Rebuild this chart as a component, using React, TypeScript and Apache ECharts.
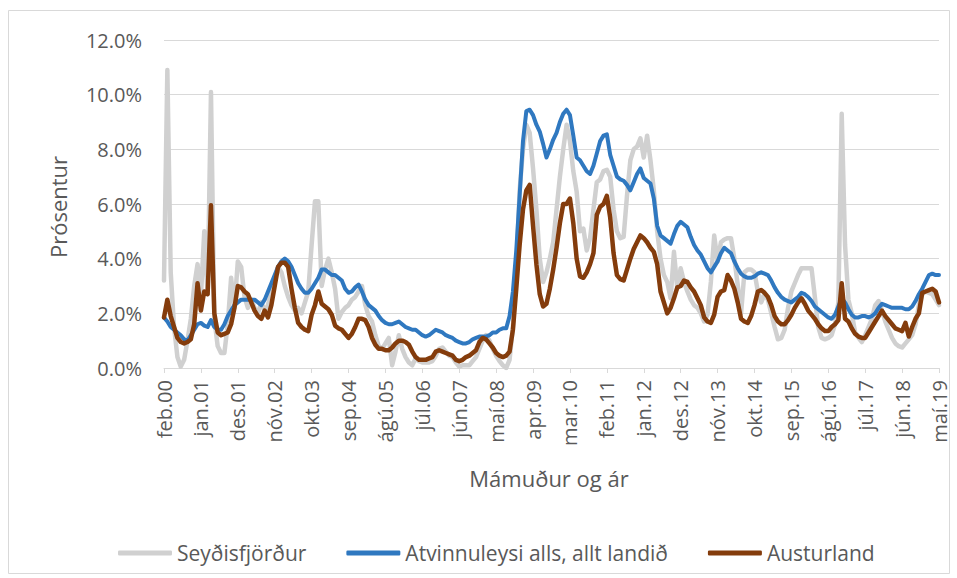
import React, { useEffect, useRef } from "react";
import * as echarts from "echarts";

const MONTHS = ["jan", "feb", "mar", "apr", "maí", "jún", "júl", "ágú", "sep", "okt", "nóv", "des"];
const START_YEAR = 2000;
const START_MONTH = 1; // feb
const MONTH_COUNT = 232; // feb.00 .. maí.19

const Y_TICKS = [0, 2, 4, 6, 8, 10, 12];

// Seyðisfjörður (%)
const seydisfjordur = [
  3.2, 10.9, 3.5, 1.5, 0.4, 0.05, 0.3, 1.0, 1.8, 3.0, 3.8,
  2.6, 5.0, 2.7, 10.1, 1.8, 0.8, 0.55, 0.55, 1.6, 3.3, 2.2,
  3.9, 3.7, 2.6, 2.2, 2.5, 2.2, 2.0, 2.4, 2.1, 2.3, 2.8,
  3.3, 3.7, 3.5, 3.0, 2.6, 2.3, 2.1, 2.2, 2.0, 2.4, 2.8,
  4.5, 6.1, 6.1, 3.0, 3.6, 4.0, 3.5, 2.9, 1.8, 2.05, 2.2,
  2.3, 2.5, 2.6, 2.8, 3.0, 2.3, 1.9, 1.7, 1.2, 0.8, 0.7,
  0.9, 1.1, 0.1, 0.6, 1.2, 0.7, 0.4, 0.2, 0.1, 0.35, 0.25,
  0.2, 0.2, 0.2, 0.25, 0.45, 0.7, 0.75, 0.6, 0.45, 0.4, 0.2,
  0.05, 0.1, 0.1, 0.1, 0.25, 0.4, 0.7, 1.0, 1.2, 1.0, 0.7,
  0.45, 0.25, 0.1, 0.0, 0.3, 1.5, 3.6, 6.5, 8.0, 8.9, 8.6,
  7.3, 5.8, 4.0, 3.15, 3.5, 4.0, 4.6, 5.8, 7.0, 8.0, 8.9,
  8.3, 7.2, 6.45, 5.0, 5.1, 4.3, 4.75, 5.8, 6.8, 6.9, 7.2,
  7.25, 7.0, 5.8, 5.0, 4.75, 4.8, 6.3, 7.6, 8.0, 8.1, 8.4,
  7.7, 8.5, 7.6, 6.5, 5.0, 4.0, 3.4, 3.15, 2.55, 4.25, 2.9,
  3.65, 3.15, 2.8, 2.5, 2.3, 2.2, 2.0, 1.7, 1.95, 3.15, 4.85,
  3.9, 4.6, 4.7, 4.75, 4.75, 4.0, 3.05, 2.0, 3.5, 3.6, 3.6,
  3.5, 2.8, 2.4, 2.7, 2.5, 2.0, 1.5, 1.05, 1.1, 1.4, 2.2,
  2.8, 3.1, 3.4, 3.65, 3.65, 3.65, 3.65, 2.6, 1.5, 1.1, 1.05,
  1.1, 1.2, 1.6, 2.4, 9.3, 4.5, 2.5, 2.0, 1.3, 1.1, 0.95,
  1.2, 1.5, 1.8, 2.3, 2.45, 2.1, 1.7, 1.4, 1.1, 0.9, 0.8,
  0.75, 0.9, 1.05, 1.2, 1.6, 2.3, 2.7, 2.8, 2.75, 2.7, 2.5,
  2.3,
];

// Atvinnuleysi alls, allt landið (%)
const allt_landid = [
  1.85, 1.7, 1.5, 1.4, 1.3, 1.2, 1.05, 1.0, 1.2, 1.4, 1.6,
  1.65, 1.55, 1.5, 1.75, 1.5, 1.4, 1.4, 1.6, 1.9, 2.1, 2.3,
  2.4, 2.5, 2.5, 2.5, 2.5, 2.5, 2.4, 2.3, 2.5, 2.8, 3.1,
  3.4, 3.7, 3.9, 4.0, 3.9, 3.7, 3.4, 3.1, 2.9, 2.75, 2.75,
  2.9, 3.1, 3.3, 3.6, 3.6, 3.5, 3.4, 3.4, 3.3, 3.2, 2.9,
  2.75, 2.8, 2.95, 3.05, 2.8, 2.5, 2.3, 2.2, 2.1, 1.9, 1.75,
  1.65, 1.6, 1.6, 1.65, 1.7, 1.6, 1.5, 1.45, 1.4, 1.4, 1.3,
  1.2, 1.15, 1.2, 1.3, 1.4, 1.35, 1.3, 1.2, 1.15, 1.1, 1.0,
  0.95, 0.9, 0.9, 0.95, 1.05, 1.1, 1.15, 1.15, 1.15, 1.2, 1.3,
  1.3, 1.4, 1.45, 1.45, 1.9, 2.8, 4.3, 6.3, 8.3, 9.4, 9.45,
  9.25, 8.9, 8.65, 8.2, 7.7, 8.0, 8.35, 8.6, 9.0, 9.3, 9.45,
  9.25, 8.5, 7.7, 7.6, 7.4, 7.2, 7.1, 7.4, 7.85, 8.3, 8.5,
  8.55, 7.8, 7.4, 7.0, 6.9, 6.85, 6.7, 6.5, 6.8, 7.1, 7.3,
  6.95, 6.85, 6.75, 6.2, 5.2, 4.85, 4.75, 4.65, 4.55, 4.9, 5.2,
  5.35, 5.25, 5.15, 4.8, 4.5, 4.3, 4.15, 3.9, 3.65, 3.5, 3.7,
  3.9, 4.2, 4.4, 4.3, 4.2, 3.9, 3.65, 3.45, 3.35, 3.3, 3.3,
  3.35, 3.45, 3.5, 3.45, 3.4, 3.2, 2.95, 2.75, 2.6, 2.5, 2.45,
  2.4, 2.5, 2.6, 2.75, 2.7, 2.6, 2.45, 2.25, 2.15, 2.05, 1.95,
  1.85, 1.8, 1.95, 2.25, 2.55, 2.4, 2.15, 1.95, 1.85, 1.85, 1.9,
  1.9, 1.85, 1.9, 2.0, 2.2, 2.35, 2.3, 2.25, 2.2, 2.2, 2.2,
  2.2, 2.15, 2.15, 2.25, 2.45, 2.7, 2.9, 3.15, 3.4, 3.45, 3.4,
  3.4,
];

// Austurland (%)
const austurland = [
  1.85, 2.5, 1.9, 1.5, 1.1, 0.95, 0.9, 0.95, 1.05, 1.6, 3.1,
  2.1, 2.8, 2.7, 5.95, 2.0, 1.3, 1.2, 1.25, 1.3, 1.6, 2.2,
  3.0, 2.95, 2.8, 2.7, 2.4, 2.1, 1.9, 1.8, 2.1, 1.85, 2.3,
  3.0, 3.7, 3.85, 3.85, 3.7, 2.9, 2.2, 1.65, 1.5, 1.4, 1.35,
  1.95, 2.3, 2.8, 2.35, 2.25, 2.15, 1.95, 1.55, 1.45, 1.4, 1.25,
  1.1, 1.25, 1.5, 1.8, 1.8, 1.75, 1.5, 1.1, 0.85, 0.7, 0.7,
  0.65, 0.65, 0.75, 0.9, 1.0, 1.0, 0.95, 0.85, 0.6, 0.4, 0.3,
  0.3, 0.3, 0.35, 0.4, 0.6, 0.65, 0.6, 0.55, 0.5, 0.45, 0.3,
  0.25, 0.3, 0.4, 0.45, 0.55, 0.65, 0.95, 1.1, 1.05, 0.9, 0.75,
  0.55, 0.45, 0.4, 0.45, 0.6, 1.4, 2.9, 4.5, 5.8, 6.5, 6.7,
  5.2, 3.8, 2.7, 2.25, 2.35, 2.9, 3.6, 4.4, 5.3, 6.0, 6.0,
  6.2, 5.3, 4.0, 3.35, 3.3, 3.5, 3.8, 4.2, 5.6, 5.9, 6.0,
  6.3, 5.5, 4.2, 3.4, 3.25, 3.2, 3.6, 4.0, 4.35, 4.6, 4.85,
  4.75, 4.6, 4.4, 4.25, 3.8, 2.8, 2.4, 2.0, 2.2, 2.55, 2.95,
  3.0, 3.2, 3.15, 2.95, 2.8, 2.55, 2.3, 1.85, 1.7, 1.65, 1.95,
  2.6, 2.8, 2.85, 3.4, 3.2, 2.9, 2.4, 1.8, 1.7, 1.65, 1.9,
  2.3, 2.8, 2.85, 2.75, 2.6, 2.3, 1.9, 1.7, 1.6, 1.6, 1.75,
  1.95, 2.2, 2.4, 2.55, 2.35, 2.1, 1.95, 1.8, 1.6, 1.45, 1.35,
  1.35, 1.5, 1.6, 1.75, 3.1, 1.8, 1.7, 1.45, 1.25, 1.15, 1.1,
  1.1, 1.3, 1.5, 1.7, 1.9, 2.1, 1.9, 1.75, 1.6, 1.45, 1.4,
  1.35, 1.65, 1.15, 1.5, 1.8, 2.0, 2.75, 2.8, 2.85, 2.9, 2.8,
  2.4,
];

const SERIES_NAMES = ["Seyðisfjörður", "Atvinnuleysi alls, allt landið", "Austurland"];
const SERIES_COLORS = ["#D0D0D0", "#2F78C0", "#843C0C"];
const SERIES_WIDTHS = [4.5, 4, 4.5];

const FONT = "'Open Sans', 'Noto Sans', sans-serif";

function buildCategories(): string[] {
  const cats: string[] = [];
  for (let k = 0; k < MONTH_COUNT; k++) {
    const m = (START_MONTH + k) % 12;
    const y = START_YEAR + Math.floor((START_MONTH + k) / 12);
    cats.push(MONTHS[m] + "." + String(y % 100).padStart(2, "0"));
  }
  return cats;
}

export default function App() {
  const ref = useRef<HTMLDivElement>(null);

  useEffect(() => {
    if (!ref.current) return;
    const chart = echarts.init(ref.current, null, { renderer: "svg" });
    const categories = buildCategories();
    const data = [seydisfjordur, allt_landid, austurland];

    chart.setOption({
      animation: false,
      backgroundColor: "#ffffff",
      textStyle: { fontFamily: FONT },
      grid: { left: 164, right: 18, top: 40, bottom: 210, containLabel: false },
      graphic: [
        {
          type: "rect",
          shape: { x: 8.5, y: 10.5, width: 941, height: 563 },
          style: { fill: "none", stroke: "#D9D9D9", lineWidth: 1 },
          silent: true,
        },
        {
          type: "text",
          x: 58,
          y: 207,
          rotation: Math.PI / 2,
          style: {
            text: "Prósentur",
            fill: "#595959",
            font: `22px ${FONT}`,
            textAlign: "center",
            textVerticalAlign: "middle",
          },
        },
        {
          type: "text",
          x: 549,
          y: 478,
          style: {
            text: "Mámuður og ár",
            fill: "#595959",
            font: `22px ${FONT}`,
            textAlign: "center",
            textVerticalAlign: "middle",
          },
        },
      ],
      legend: {
        left: 113,
        top: 536,
        itemWidth: 54,
        itemHeight: 5,
        itemGap: 40,
        icon: "roundRect",
        textStyle: { color: "#595959", fontSize: 21, fontFamily: FONT, lineHeight: 24 },
        data: SERIES_NAMES,
      },
      xAxis: {
        type: "category",
        data: categories,
        boundaryGap: false,
        axisLine: { show: true, lineStyle: { color: "#D9D9D9", width: 1 } },
        axisTick: { show: true, interval: 10, length: 5, lineStyle: { color: "#D9D9D9" } },
        axisLabel: {
          interval: 10,
          rotate: 90,
          margin: 12,
          color: "#595959",
          fontSize: 20,
          fontFamily: FONT,
        },
        splitLine: { show: false },
      },
      yAxis: {
        type: "value",
        min: Y_TICKS[0],
        max: Y_TICKS[Y_TICKS.length - 1],
        interval: 2,
        axisLine: { show: false },
        axisTick: { show: false },
        axisLabel: {
          margin: 22,
          color: "#595959",
          fontSize: 20,
          fontFamily: FONT,
          formatter: (v: number) => v.toFixed(1) + "%",
        },
        splitLine: { lineStyle: { color: "#D9D9D9", width: 1 } },
      },
      series: data.map((d, i) => ({
        name: SERIES_NAMES[i],
        type: "line",
        data: d,
        symbol: "none",
        smooth: false,
        color: SERIES_COLORS[i],
        lineStyle: { width: SERIES_WIDTHS[i], color: SERIES_COLORS[i], cap: "round", join: "round" },
        z: 2 + i,
      })),
    });

    return () => chart.dispose();
  }, []);

  return (
    <div
      ref={ref}
      style={{ position: "absolute", left: 0, top: 0, width: 957, height: 578, background: "#fff" }}
    />
  );
}
